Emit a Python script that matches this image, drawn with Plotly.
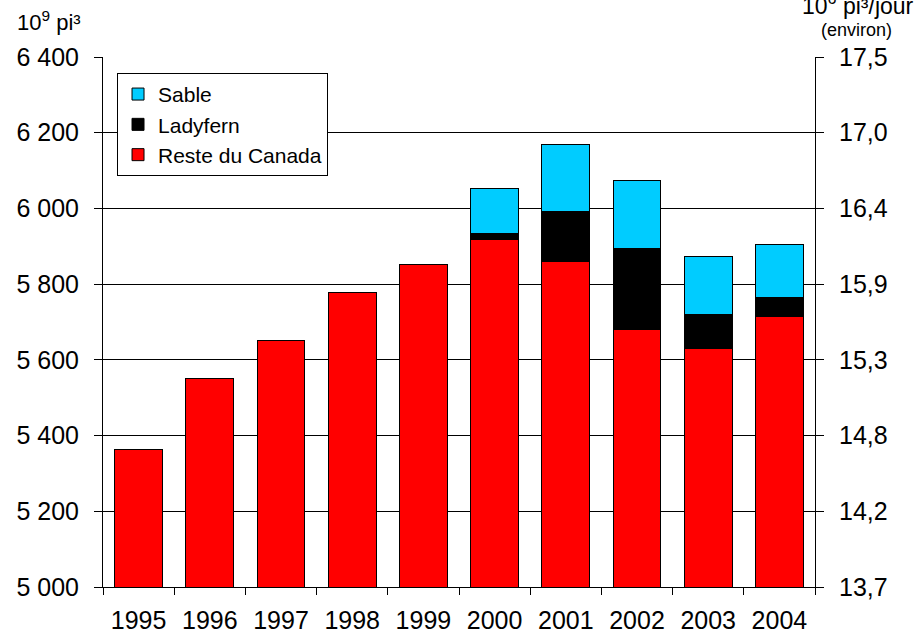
import plotly.graph_objects as go

# --- Data ---
years = ["1995", "1996", "1997", "1998", "1999", "2000", "2001", "2002", "2003", "2004"]
reste_du_canada = [5362, 5552, 5652, 5777, 5853, 5919, 5859, 5679, 5630, 5714]
ladyfern = [0, 0, 0, 0, 0, 15, 132, 214, 90, 50]
sable = [0, 0, 0, 0, 0, 119, 179, 182, 152, 142]

left_ticks = [5000, 5200, 5400, 5600, 5800, 6000, 6200, 6400]
left_labels = ["5 000", "5 200", "5 400", "5 600", "5 800", "6 000", "6 200", "6 400"]
right_labels = ["13,7", "14,2", "14,8", "15,3", "15,9", "16,4", "17,0", "17,5"]

FONT = "Liberation Sans, Arial, sans-serif"
TICK_SIZE = 25

fig = go.Figure()

for name, vals, color in [
    ("Reste du Canada", reste_du_canada, "#ff0000"),
    ("Ladyfern", ladyfern, "#000000"),
    ("Sable", sable, "#00ccff"),
]:
    fig.add_trace(go.Bar(
        x=years, y=vals, name=name,
        marker=dict(color=color, line=dict(color="#000000", width=1)),
    ))

# invisible trace so the right axis is drawn
fig.add_trace(go.Scatter(
    x=[years[0]], y=[None], yaxis="y2", mode="markers",
    showlegend=False, hoverinfo="skip",
))

fig.update_layout(
    width=922, height=636,
    margin=dict(l=103, r=107, t=57, b=49),
    barmode="stack",
    bargap=0.326,
    plot_bgcolor="white",
    paper_bgcolor="white",
    font=dict(family=FONT, color="black"),
    showlegend=True,
    legend=dict(
        x=0.0197, y=0.97, xanchor="left", yanchor="top",
        traceorder="reversed",
        bgcolor="white", bordercolor="black", borderwidth=1,
        font=dict(size=21, family=FONT),
        itemwidth=30,
    ),
    xaxis=dict(
        type="category", range=[-0.5, 9.5],
        showline=True, linecolor="black", linewidth=1,
        ticks="outside", tickson="boundaries", ticklen=7, tickcolor="black",
        tickfont=dict(size=TICK_SIZE), showgrid=False,
        ticklabelstandoff=11, automargin=False,
    ),
    yaxis=dict(
        range=[5000, 6400], tickvals=left_ticks, ticktext=left_labels,
        showline=True, linecolor="black", linewidth=1,
        ticks="outside", ticklen=8, tickcolor="black",
        showgrid=True, gridcolor="black", gridwidth=1,
        tickfont=dict(size=TICK_SIZE), zeroline=False,
        ticklabelstandoff=10, automargin=False,
    ),
    yaxis2=dict(
        overlaying="y", side="right",
        range=[5000, 6400], tickvals=left_ticks, ticktext=right_labels,
        showline=True, linecolor="black", linewidth=1,
        ticks="outside", ticklen=8, tickcolor="black",
        showgrid=False, zeroline=False,
        tickfont=dict(size=TICK_SIZE),
        ticklabelstandoff=10, automargin=False,
    ),
)

# axis unit labels
fig.add_annotation(
    x=-0.0758, y=1.068, xref="paper", yref="paper",
    text="10<sup>9</sup> pi³", showarrow=False,
    font=dict(size=22), xanchor="center", yanchor="middle",
)
fig.add_annotation(
    x=0.979, y=1.10, xref="paper", yref="paper",
    text="10<sup>6</sup> pi³/jour", showarrow=False,
    font=dict(size=23), xanchor="left", yanchor="middle",
)
fig.add_annotation(
    x=1.0576, y=1.051, xref="paper", yref="paper",
    text="(environ)", showarrow=False,
    font=dict(size=18), xanchor="center", yanchor="middle",
)

# drop the default 8px page margin so the figure fills the window
fig.write_html(
    "out.html",
    config={"displayModeBar": False},
    post_script="document.body.style.margin='0';",
)
